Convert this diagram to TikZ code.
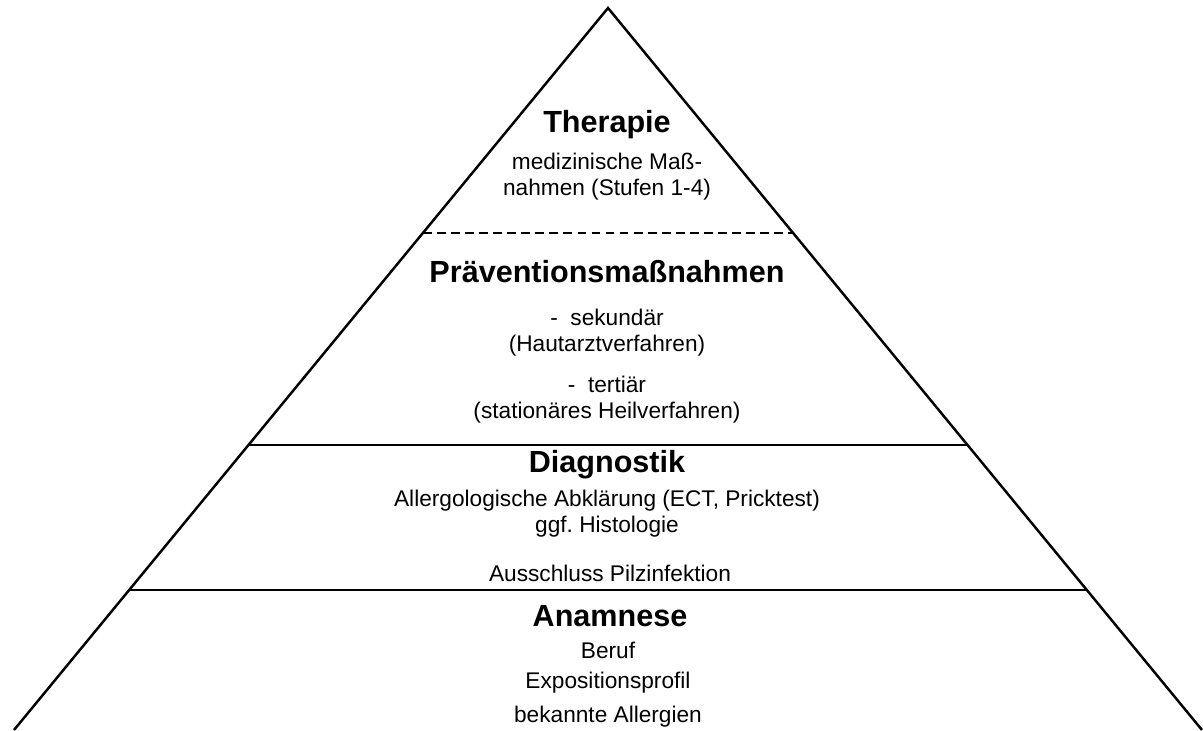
\documentclass[tikz,border=0pt]{standalone}
\usepackage{fontspec}
\setmainfont{Liberation Sans}
\usetikzlibrary{calc}

\begin{document}
\begin{tikzpicture}[
  x=0.02cm, y=-0.02cm,
  title/.style={font=\bfseries\fontsize{17.4}{20}\selectfont, inner sep=0pt},
  body/.style={font=\frenchspacing\fontsize{12.9}{14.9}\selectfont, inner sep=0pt, align=center},
  side/.style={line width=1.4pt, line join=miter},
  level/.style={line width=1.1pt},
  split/.style={line width=1.1pt, dash pattern=on 5pt off 3pt}
]
  \useasboundingbox (0,0) rectangle (1203,730);

  % pyramid outline
  \coordinate (apex) at (608,8);
  \coordinate (bl) at (14,730);
  \coordinate (br) at (1202,730);
  \draw[side] (bl) -- (apex) -- (br);

  % level borders
  \coordinate (dashL) at ($(apex)!0.3116!(bl)$);
  \coordinate (dashR) at ($(apex)!0.3116!(br)$);
  \coordinate (midL) at ($(apex)!0.6053!(bl)$);
  \coordinate (midR) at ($(apex)!0.6053!(br)$);
  \coordinate (lowL) at ($(apex)!0.8061!(bl)$);
  \coordinate (lowR) at ($(apex)!0.8061!(br)$);
  \draw[split] (dashL) -- (dashR);
  \draw[level] (midL) -- (midR);
  \draw[level] (lowL) -- (lowR);

  % Therapie
  \node[title] (therapie) at (607,125) {Therapie};
  \node[body] (massnahmen) at (607,177)
    {medizinische Maß-\\nahmen (Stufen 1-4)};

  % Prävention
  \node[title] (praevention) at (607,272) {Präventionsmaßnahmen};
  \node[body] (sekundaer) at (607,333)
    {-\ \ sekundär\\(Hautarztverfahren)};
  \node[body] (tertiaer) at (607,400)
    {-\ \ tertiär\\(stationäres Heilverfahren)};

  % Diagnostik
  \node[title] (diagnostik) at (607,465) {Diagnostik};
  \node[body] (abklaerung) at (607,514)
    {Allergologische Abklärung (ECT, Pricktest)\\ggf. Histologie};
  \node[body] (pilz) at (610,573) {Ausschluss Pilzinfektion};

  % Anamnese
  \node[title] (anamnese) at (610,616) {Anamnese};
  \node[body] (beruf) at (608,650) {Beruf};
  \node[body] (exposition) at (608,683) {Expositionsprofil};
  \node[body] (allergien) at (608,717) {bekannte Allergien};
\end{tikzpicture}
\end{document}
